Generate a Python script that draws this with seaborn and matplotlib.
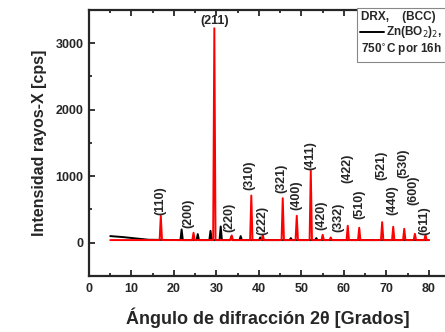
import numpy as np
import pandas as pd
import matplotlib
matplotlib.use("Agg")
import matplotlib.pyplot as plt
import seaborn as sns
from matplotlib.ticker import MultipleLocator

sns.set_theme(style="ticks")
plt.rcParams["font.family"] = ["Liberation Sans", "DejaVu Sans"]

# Measured pattern (red): Miller indices, 2-theta positions and peak intensities
hkl = ["(110)", "(200)", "(211)", "(220)", "(310)", "(222)", "(321)", "(400)",
       "(411)", "(420)", "(332)", "(422)", "(510)", "(521)", "(440)", "(530)",
       "(600)", "(611)"]
red_pos = [16.9, 24.6, 29.5, 33.6, 38.2, 40.9, 45.6, 48.9, 52.2, 55.0, 56.9,
           60.9, 63.6, 69.0, 71.6, 74.2, 76.7, 79.2]
red_int = [405, 150, 3225, 110, 710, 120, 670, 405, 1085, 120, 80, 255, 225,
           310, 240, 210, 135, 120]
red_base = 40

# Reference pattern Zn(BO2)2 (black)
blk_pos = [21.8, 25.6, 28.6, 31.0, 33.5, 35.7, 40.3, 47.5, 53.5]
blk_int = [200, 130, 180, 245, 90, 100, 80, 70, 70]
blk_start = [(5.0, 100), (8.0, 85), (14.0, 45)]
blk_base = 40

# Label placement: x of the rotated text and its bottom (in cps)
lab_x = [16.9, 23.4, 29.5, 33.0, 37.8, 40.7, 45.2, 48.9, 52.0, 54.8, 58.8,
         60.9, 63.6, 68.8, 71.4, 74.0, 76.4, 79.0]
lab_y = [420, 225, None, 165, 795, 120, 750, 495, 1095, 195, 165, 900, 360,
         945, 420, 975, 570, 120]


def spiky(pos, inten, base, x0=5.0, x1=80.0, hw=0.28, head=None):
    xs, ys = [], []
    if head:
        for hx, hy in head:
            xs.append(hx); ys.append(hy)
    else:
        xs.append(x0); ys.append(base)
    for p, h in sorted(zip(pos, inten)):
        xs += [p - hw, p, p + hw]
        ys += [base, h, base]
    xs.append(x1); ys.append(base)
    return pd.DataFrame({"x": xs, "y": ys})


red_df = spiky(red_pos, red_int, red_base)
blk_df = spiky(blk_pos, blk_int, blk_base, head=blk_start)

fig = plt.figure(figsize=(4.45, 3.32), dpi=100)
ax = fig.add_axes([0.2, 0.1687, 0.802, 0.8012])

sns.lineplot(data=blk_df, x="x", y="y", color="black", lw=1.4, ax=ax,
             sort=False, estimator=None)
sns.lineplot(data=red_df, x="x", y="y", color="#ff0000", lw=1.4, ax=ax,
             sort=False, estimator=None)

ax.set_xlim(0, 84)
ax.set_ylim(-500, 3500)
ax.xaxis.set_minor_locator(MultipleLocator(5))
ax.yaxis.set_major_locator(MultipleLocator(1000))
ax.yaxis.set_minor_locator(MultipleLocator(500))
ax.set_xticks(range(0, 81, 10))
ax.tick_params(which="both", direction="out", width=1.3, labelsize=9)
ax.tick_params(which="major", length=4, pad=4)
ax.tick_params(which="minor", length=2.5)
ax.tick_params(top=True, which="both", direction="in")
ax.tick_params(axis="x", which="major", pad=5)
for lab in ax.get_xticklabels() + ax.get_yticklabels():
    lab.set_fontweight("bold")
for side in ["left", "bottom", "top"]:
    ax.spines[side].set_linewidth(1.6)
ax.spines["right"].set_visible(False)

ax.set_xlabel("Ángulo de difracción 2θ [Grados]", fontsize=13,
              fontweight="bold", labelpad=9)
ax.set_ylabel("Intensidad rayos-X [cps]", fontsize=11.5,
              fontweight="bold", labelpad=6)

for name, lx, h, ly in zip(hkl, lab_x, red_int, lab_y):
    if ly is None:
        ax.text(lx, h + 20, name, ha="center", va="bottom", fontsize=9,
                fontweight="bold")
    else:
        ax.text(lx, ly, name, rotation=90, ha="center", va="bottom",
                fontsize=9, fontweight="bold")

# Legend box in the upper right corner
box = plt.Rectangle((357 / 445, 1 - 62 / 332), 0.25, 54 / 332,
                    transform=fig.transFigure, facecolor="white",
                    edgecolor="#888888", lw=0.8, zorder=5)
fig.patches.append(box)
fig.text(361 / 445, 1 - 17 / 332, "DRX,    (BCC)", fontsize=8.5,
         fontweight="bold", va="center", zorder=6)
fig.lines.append(plt.Line2D([360 / 445, 384 / 445], [1 - 32 / 332] * 2,
                            transform=fig.transFigure, color="black",
                            lw=1.4, zorder=6))
fig.text(386 / 445, 1 - 32 / 332, "Zn(BO$_2$)$_2$,", fontsize=8.5,
         fontweight="bold", va="center", zorder=6)
fig.text(361 / 445, 1 - 50 / 332, "750$^{\\circ}$C por 16h", fontsize=8.5,
         fontweight="bold", va="center", zorder=6)

fig.savefig("out.png", dpi=100)
